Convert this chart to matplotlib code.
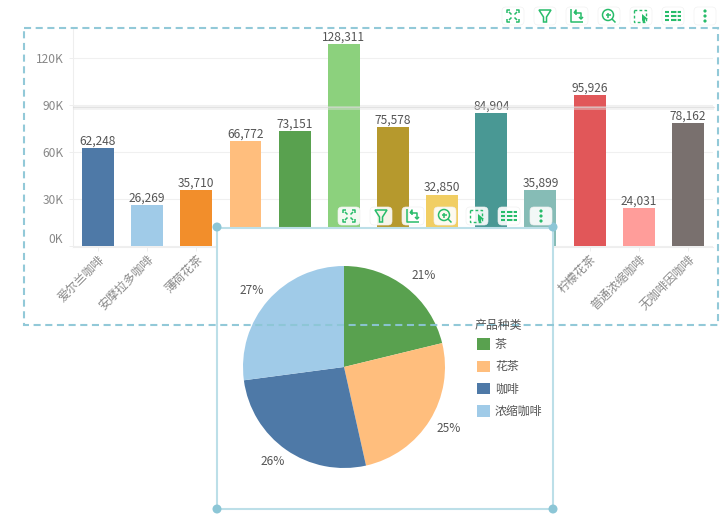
import matplotlib
matplotlib.use("Agg")
import matplotlib.pyplot as plt
from matplotlib.patches import Rectangle, FancyBboxPatch, Circle, Polygon
from matplotlib.transforms import ScaledTranslation

plt.rcParams['font.family'] = ['Noto Sans CJK SC', 'DejaVu Sans']

# categories 4-10 are hidden behind the pie panel, their names can't be read
categories = ["爱尔兰咖啡", "安摩拉多咖啡", "薄荷花茶", "", "", "", "", "", "", "",
              "柠檬花茶", "普通浓缩咖啡", "无咖啡因咖啡"]
sales = [62248, 26269, 35710, 66772, 73151, 128311, 75578, 32850, 84904, 35899,
         95926, 24031, 78162]
bar_colors = ["#4E79A7", "#A0CBE8", "#F28E2B", "#FFBE7D", "#59A14F", "#8CD17D", "#B6992D",
              "#F1CE63", "#499894", "#86BCB6", "#E15759", "#FF9D9A", "#79706E"]
y_ticks = [0, 30000, 60000, 90000, 120000]
y_tick_labels = ["0K", "30K", "60K", "90K", "120K"]

pie_labels = ["茶", "花茶", "咖啡", "浓缩咖啡"]
pie_shares = [21.2, 25.3, 26.4, 27.1]
pie_colors = ["#59A14F", "#FFBE7D", "#4E79A7", "#A0CBE8"]
legend_title = "产品种类"

W, H = 727, 518
GREEN = "#27BC6A"
FRAME = "#8CC6D6"
PANEL = "#BCDFE8"

fig = plt.figure(figsize=(W / 100, H / 100), dpi=100, facecolor="white")


def px_axes(left, top, right, bottom, zorder):
    # axes placed with pixel coordinates measured from the top left
    return fig.add_axes([left / W, 1 - bottom / H, (right - left) / W, (bottom - top) / H],
                        zorder=zorder)


# bar chart
ax = px_axes(72.5, 29.5, 713, 246.5, 1)
positions = range(len(sales))
bars = ax.bar(positions, sales, width=0.65, color=bar_colors, zorder=3)
ax.bar_label(bars, labels=[f"{v:,}" for v in sales], fontsize=8.6, color="#555555", padding=0.4)
ax.set_xlim(-0.519, 12.51)
ax.set_ylim(-127, 137797)
ax.set_yticks(y_ticks, y_tick_labels)
ax.set_xticks(list(positions), categories, rotation=45, ha="right", va="center",
              rotation_mode="anchor")
ax.tick_params(axis="y", length=3, width=0.7, color="#EEEEEE", labelcolor="#888888",
               labelsize=8.6, pad=3.6)
ax.tick_params(axis="x", length=3, width=0.7, color="#EEEEEE", labelcolor="#888888",
               labelsize=8.6, pad=4.7)
ax.get_yticklabels()[0].set_verticalalignment("bottom")
shift = ScaledTranslation(4.5 / 100, 0, fig.dpi_scale_trans)
for lab in ax.get_xticklabels():
    lab.set_transform(lab.get_transform() + shift)
ax.grid(axis="y", color="#F0F0F0", linewidth=0.8, zorder=0)
for side in ["top", "right"]:
    ax.spines[side].set_visible(False)
for side in ["left", "bottom"]:
    ax.spines[side].set_color("#EEEEEE")
    ax.spines[side].set_linewidth(0.8)

# white panel the pie sits on, it hides the lower part of the bars
panel = px_axes(0, 0, W, H, 2)
panel.set_xlim(0, W)
panel.set_ylim(H, 0)
panel.axis("off")
panel.patch.set_alpha(0)
panel.add_patch(Rectangle((73, 106), 641, 4, facecolor="#E2E2E2", alpha=0.4, edgecolor="none"))
panel.plot([73, 714], [106.5, 106.5], color="#D8D8D8", alpha=0.6, linewidth=0.8)
panel.add_patch(Rectangle((217, 227.5), 336, 281.5, facecolor="white", edgecolor=PANEL, linewidth=1.5))
for cx, cy in [(217, 227), (553, 227), (217, 509), (553, 509)]:
    panel.add_patch(Circle((cx, cy), 4.5, facecolor=FRAME, edgecolor="none", zorder=5))

# pie chart
pie_ax = px_axes(344 - 131.3, 367 - 131.3, 344 + 131.3, 367 + 131.3, 3)
pie_ax.patch.set_alpha(0)
wedges, _, autotexts = pie_ax.pie(pie_shares, colors=pie_colors, startangle=90, counterclock=False,
                                  radius=1, autopct="%.0f%%", pctdistance=1.19)
# nudge the percent labels, in pixels (x right, y down)
for t, (dx, dy) in zip(autotexts, [(5, 3), (3, -2), (-2, -4), (-2, 3)]):
    t.set_fontsize(8.6)
    t.set_color("#555555")
    x, y = t.get_position()
    t.set_position((x + dx / 101, y - dy / 101))
pie_ax.set_xlim(-1.3, 1.3)
pie_ax.set_ylim(-1.3, 1.3)
leg = fig.legend(wedges, pie_labels, loc="upper left", bbox_to_anchor=(477 / W, 1 - 338 / H),
                 frameon=False, fontsize=8.6, handlelength=1.08, handleheight=1.08,
                 handletextpad=0.42, labelspacing=0.78, borderpad=0, borderaxespad=0)
leg.set_zorder(6)
for t in leg.get_texts():
    t.set_color("#555555")
fig.text(475 / W, 1 - 325 / H, legend_title, fontsize=8.6, color="#555555", va="center", zorder=6)

# dashed selection frame and toolbars go on top of everything
top = px_axes(0, 0, W, H, 4)
top.set_xlim(0, W)
top.set_ylim(H, 0)
top.axis("off")
top.patch.set_alpha(0)
top.add_patch(Rectangle((23.5, 27.5), 694, 297, fill=False, edgecolor=FRAME, linewidth=1.5,
                        linestyle=(0, (3.4, 2.2)), alpha=0.95))


def stroke(xs, ys, **kw):
    top.plot(xs, ys, color=GREEN, linewidth=kw.pop("lw", 1.1), solid_capstyle="butt", **kw)


def icon_expand(x, y):
    for sx, sy in [(-1, -1), (1, -1), (-1, 1), (1, 1)]:
        stroke([x + sx * 6, x + sx * 6, x + sx * 3], [y + sy * 3, y + sy * 6, y + sy * 6])
        stroke([x + sx * 1.5, x + sx * 4], [y + sy * 1.5, y + sy * 4])


def icon_filter(x, y):
    top.add_patch(Polygon([(x - 6, y - 6), (x + 6, y - 6), (x + 1.5, y + 1), (x + 1.5, y + 6),
                           (x - 1.5, y + 6), (x - 1.5, y + 1)], closed=True, fill=False,
                          edgecolor=GREEN, linewidth=1.1))


def icon_swap(x, y):
    stroke([x - 6, x - 6, x + 6], [y - 7, y + 6, y + 6])
    stroke([x - 3, x + 4, x + 4], [y - 3, y - 3, y + 3])
    stroke([x + 2, x + 4, x + 6], [y + 1, y + 3, y + 1])
    stroke([x - 3, x - 1, x - 1], [y - 3, y - 6, y - 1])


def icon_zoom(x, y):
    top.add_patch(Circle((x - 1, y - 1), 5.5, fill=False, edgecolor=GREEN, linewidth=1.1))
    stroke([x - 3.5, x + 1.5], [y - 1, y - 1])
    stroke([x - 1, x - 1], [y - 3.5, y + 1.5])
    stroke([x + 3, x + 6.5], [y + 3, y + 6.5])


def icon_select(x, y):
    top.add_patch(Rectangle((x - 7, y - 6), 12, 12, fill=False, edgecolor=GREEN, linewidth=1.0,
                            linestyle=(0, (2, 1.6))))
    top.add_patch(Polygon([(x + 1, y - 2), (x + 7, y + 3), (x + 4, y + 3.5), (x + 4, y + 6.5),
                           (x + 2, y + 6.5), (x + 1, y + 4)], closed=True, facecolor=GREEN,
                          edgecolor="none"))


def icon_list(x, y):
    for dy in [-4, 0, 4]:
        stroke([x - 8, x - 4], [y + dy, y + dy], lw=1.5)
        stroke([x - 2.5, x + 8], [y + dy, y + dy], lw=1.5, linestyle=(0, (2.6, 0.6)))


def icon_more(x, y):
    for dy in [-5, 0, 5]:
        top.add_patch(Circle((x, y + dy), 1.6, facecolor=GREEN, edgecolor="none"))


icons = [icon_expand, icon_filter, icon_swap, icon_zoom, icon_select, icon_list, icon_more]
for x0, y0 in [(513, 16), (349, 216)]:
    for i, icon in enumerate(icons):
        cx = x0 + 32 * i
        top.add_patch(FancyBboxPatch((cx - 9, y0 - 7), 18, 14, boxstyle="round,pad=2,rounding_size=4",
                                     facecolor="white", edgecolor="#F0F0F0", linewidth=0.5, alpha=0.9))
        icon(cx, y0)

fig.savefig("out.png", dpi=100)
